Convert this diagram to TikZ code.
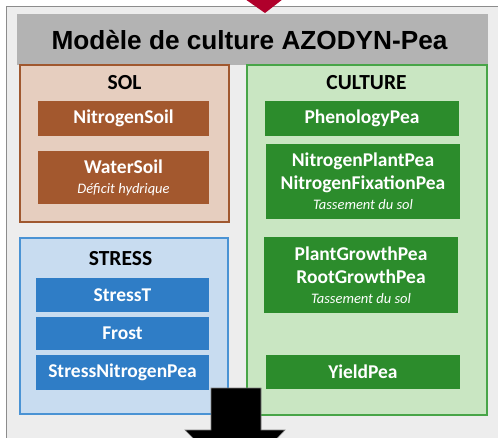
\documentclass[tikz,border=0pt]{standalone}
\usepackage{fontspec}
\setmainfont{Carlito}
\newfontfamily\arialfont{Liberation Sans}
\newcommand\notefont{\mdseries\itshape\fontsize{14.5}{16}\selectfont}
\definecolor{outerbg}{HTML}{EDEDED}
\definecolor{outerline}{HTML}{8C8C8C}
\definecolor{titlebg}{HTML}{B3B3B3}
\definecolor{soilbg}{HTML}{E6CEBF}
\definecolor{soilline}{HTML}{A0582F}
\definecolor{soilbox}{HTML}{A3582E}
\definecolor{cropbg}{HTML}{C9E6C2}
\definecolor{cropline}{HTML}{48A548}
\definecolor{cropbox}{HTML}{2C8C2C}
\definecolor{stressbg}{HTML}{C8DCF0}
\definecolor{stressline}{HTML}{4A93D4}
\definecolor{stressbox}{HTML}{2F7DC6}
\definecolor{topred}{HTML}{B0002B}
\tikzset{
  panel/.style={draw, line width=1.2pt, inner sep=0pt, anchor=center},
  modbox/.style={inner sep=0pt, anchor=center, text=white, align=center,
     font=\bfseries\fontsize{19.5}{23}\selectfont},
  ptitle/.style={font=\bfseries\fontsize{21.5}{24}\selectfont, text=black, anchor=center},
}
\begin{document}
\begin{tikzpicture}[x=1pt,y=-1pt]
\clip (0,0) rectangle (498,437);
% outer panel
\fill[white] (0,0) rectangle (498,437);
\draw[outerline, fill=outerbg, line width=1pt] (6,6) rectangle (520,460);
% top red arrow
\fill[topred] (245,-1) -- (283,-1) -- (265,13) -- cycle;
% title bar
\node[fill=titlebg, minimum width=471pt, minimum height=51pt, inner sep=0pt,
      font=\arialfont\bfseries\fontsize{26.2}{28}\selectfont] (title) at (252.5,39.5) {};
\node[font=\arialfont\bfseries\fontsize{26.2}{28}\selectfont, inner sep=0pt] (titletext) at (249.5,40) {Modèle de culture AZODYN-Pea};
% SOL panel
\node[panel, draw=soilline, fill=soilbg, minimum width=209pt, minimum height=157pt] (sol) at (124.5,143.5) {};
\node[ptitle] (soltitle) at (124.5,83) {SOL};
\node[modbox, fill=soilbox, minimum width=171pt, minimum height=35pt] (nsoil) at (123.5,118.5) {NitrogenSoil};
\node[modbox, fill=soilbox, minimum width=171pt, minimum height=53pt] (wsoil) at (123.5,177.5) {WaterSoil\\[-3pt]{\notefont Déficit hydrique}};
% CULTURE panel
\node[panel, draw=cropline, fill=cropbg, minimum width=240pt, minimum height=350pt] (crop) at (367,240) {};
\node[ptitle] (croptitle) at (366.5,83) {CULTURE};
\node[modbox, fill=cropbox, minimum width=194pt, minimum height=35pt] (pheno) at (362,118.5) {PhenologyPea};
\node[modbox, fill=cropbox, minimum width=194pt, minimum height=75pt] (nplant) at (363,181.5) {NitrogenPlantPea\\NitrogenFixationPea\\[-3pt]{\notefont Tassement du sol}};
\node[modbox, fill=cropbox, minimum width=194pt, minimum height=76pt] (pgrowth) at (361,275) {PlantGrowthPea\\RootGrowthPea\\[-3pt]{\notefont Tassement du sol}};
\node[modbox, fill=cropbox, minimum width=194pt, minimum height=34pt] (yield) at (363,372) {YieldPea};
% STRESS panel
\node[panel, draw=stressline, fill=stressbg, minimum width=208pt, minimum height=176pt] (stress) at (124,326) {};
\node[ptitle] (stresstitle) at (120.5,259) {STRESS};
\node[modbox, fill=stressbox, minimum width=173pt, minimum height=34pt] (stresst) at (122.5,295) {StressT};
\node[modbox, fill=stressbox, minimum width=173pt, minimum height=33pt] (frost) at (122.5,333.5) {Frost};
\node[modbox, fill=stressbox, minimum width=173pt, minimum height=35pt] (snp) at (122.5,372.5) {StressNitrogenPea};
% bottom black arrow
\draw[fill=black, draw=gray, line width=0.6pt] (211,388) -- (261,388) -- (261,430) -- (285,430) -- (236,481) -- (185,430) -- (211,430) -- cycle;
\end{tikzpicture}
\end{document}
